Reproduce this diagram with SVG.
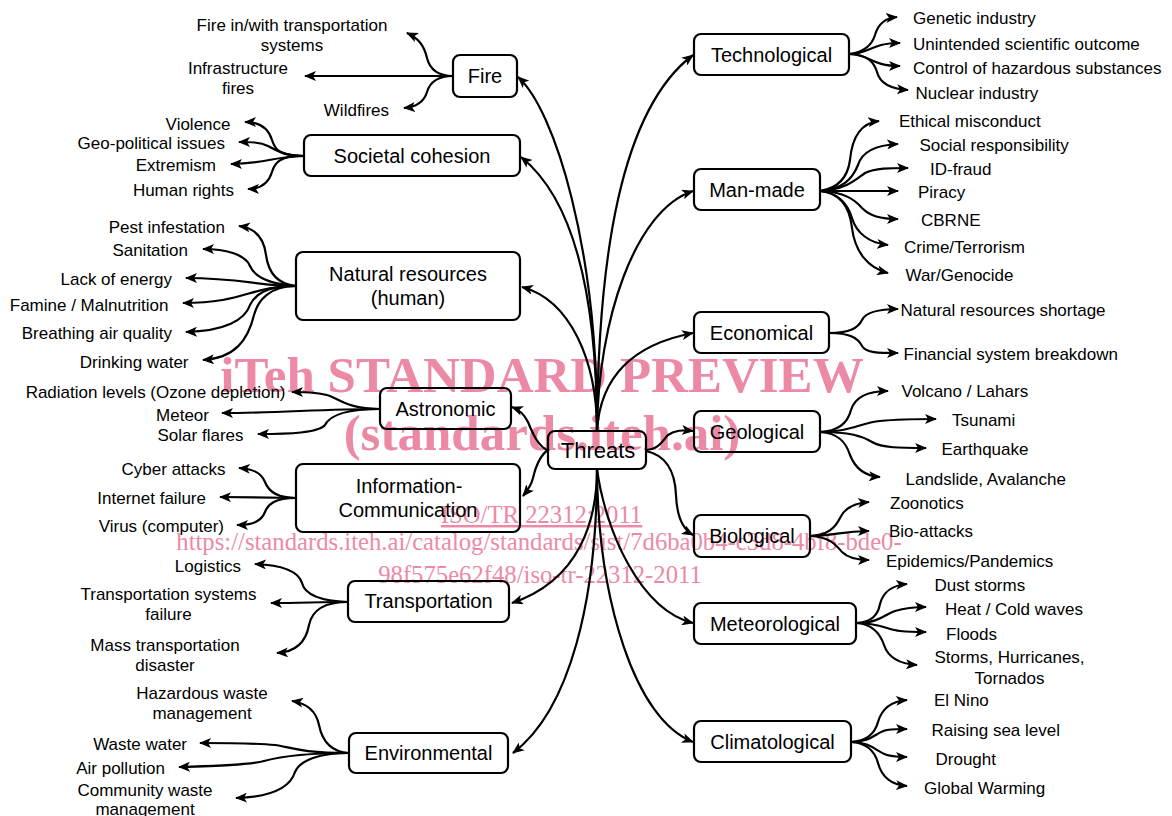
<svg xmlns="http://www.w3.org/2000/svg" width="1172" height="816" viewBox="0 0 1172 816">
<style>
.box{fill:none;stroke:#000;stroke-width:2.2}
.lbl{font-family:"Liberation Sans",Arial,sans-serif;font-size:20px;fill:#000;text-anchor:middle}
.thr{font-size:22px}
.leaf{font-family:"Liberation Sans",Arial,sans-serif;font-size:17px;fill:#000}
.l{text-anchor:end}
.r{text-anchor:start}
.m{text-anchor:middle}
.wm{font-family:"Liberation Serif","Times New Roman",serif;fill:#ec8aa6;text-anchor:middle}
.wmb{font-size:51px;font-weight:bold}
.wms{font-size:24.7px}
.edge{fill:none;stroke:#000;stroke-width:2.2;marker-end:url(#ah)}
</style>
<defs>
<marker id="ah" viewBox="0 0 12 10" refX="11" refY="5" markerWidth="12" markerHeight="10" markerUnits="userSpaceOnUse" orient="auto">
<path d="M0,0 L12,5 L0,10 L3,5 z" fill="#000"/>
</marker>
</defs>
<rect width="1172" height="816" fill="#fff"/>
<g id="watermark">
<text class="wm wmb" x="542" y="392">iTeh STANDARD PREVIEW</text>
<text class="wm wmb" x="542" y="450">(standards.iteh.ai)</text>
<text class="wm wms" x="541.5" y="523" text-decoration="underline">ISO/TR 22312:2011</text>
<text class="wm wms" x="539" y="550">https://standards.iteh.ai/catalog/standards/sist/7d6ba0b4-c3d8-4bf8-bde0-</text>
<text class="wm wms" x="540" y="583">98f575e62f48/iso-tr-22312-2011</text>
</g>
<g id="connectors">
<!-- central -->
<path class="edge" d="M597,431 C598,250 555,110 518,77"/>
<path class="edge" d="M597,431 C597,300 575,200 521,157"/>
<path class="edge" d="M597,431 C597,360 570,300 522,287"/>
<path class="edge" d="M549,451 C538,447 532,432 528,422 C524,414 520,410 512,407"/>
<path class="edge" d="M549,449 C540,455 536,465 533,478 C531,486 528,490 523,496"/>
<path class="edge" d="M597,469 C597,520 580,580 512,603"/>
<path class="edge" d="M597,469 C597,600 570,710 513,753"/>
<path class="edge" d="M597,431 C598,260 620,110 693,55"/>
<path class="edge" d="M597,431 C598,320 635,210 693,191"/>
<path class="edge" d="M597,431 C600,380 630,345 693,333"/>
<path class="edge" d="M646,450 C660,449 663,440 668,435 C675,430 682,430 693,431"/>
<path class="edge" d="M646,451 C665,455 675,470 676,495 C677,520 684,530 693,535"/>
<path class="edge" d="M597,469 C605,530 640,610 693,623"/>
<path class="edge" d="M597,469 C598,600 635,720 693,742"/>
<!-- Fire -->
<path class="edge" d="M453,76 C438,76 430,70 427,58 C424,45 418,38 407,33"/>
<path class="edge" d="M453,76 L305,76"/>
<path class="edge" d="M453,76 C438,76 430,82 427,92 C424,102 416,107 404,108"/>
<!-- Societal -->
<path class="edge" d="M304,156 C280,156 275,150 272,140 C268,127 258,122 245,122"/>
<path class="edge" d="M304,156 C285,156 275,150 268,146 C260,142 250,142 239,142"/>
<path class="edge" d="M304,156 C275,156 265,164 231,164"/>
<path class="edge" d="M304,156 C280,156 275,162 272,172 C268,185 258,189 248,189"/>
<!-- Natural resources -->
<path class="edge" d="M296,286 C275,284 268,270 266,255 C264,238 255,228 239,226"/>
<path class="edge" d="M296,286 C270,284 255,278 250,266 C245,254 225,249 203,249"/>
<path class="edge" d="M296,286 C260,286 240,278 186,278"/>
<path class="edge" d="M296,286 C250,286 245,303 183,303"/>
<path class="edge" d="M296,286 C265,286 255,295 250,305 C245,320 225,331 186,332"/>
<path class="edge" d="M296,286 C270,286 258,300 254,315 C248,340 235,358 203,360"/>
<!-- Astronomic -->
<path class="edge" d="M380,409 C350,409 340,400 330,396 C318,392 305,392 292,392"/>
<path class="edge" d="M380,409 C320,409 280,413 222,413"/>
<path class="edge" d="M380,409 C345,409 330,415 325,425 C318,433 290,434 258,434"/>
<!-- Information-Communication -->
<path class="edge" d="M296,498 C275,498 268,490 265,482 C261,472 252,469 239,468"/>
<path class="edge" d="M296,498 L220,497"/>
<path class="edge" d="M296,498 C275,498 268,504 265,512 C261,522 252,525 237,525"/>
<!-- Transportation -->
<path class="edge" d="M348,602 C320,601 305,595 302,583 C298,570 280,565 255,564"/>
<path class="edge" d="M348,602 C320,602 300,603 271,603"/>
<path class="edge" d="M348,602 C325,602 312,610 309,625 C306,642 295,652 277,653"/>
<!-- Environmental -->
<path class="edge" d="M349,753 C330,752 322,740 319,725 C316,710 305,703 292,701"/>
<path class="edge" d="M349,753 C300,753 290,747 275,745 C255,743 230,743 200,743"/>
<path class="edge" d="M349,753 C300,753 275,758 264,761 C250,765 215,766 179,767"/>
<path class="edge" d="M349,753 C320,753 300,760 295,772 C290,788 270,797 236,798"/>
<!-- Technological -->
<path class="edge" d="M849,54 C865,52 872,45 875,35 C878,24 885,18 897,17"/>
<path class="edge" d="M849,54 C870,54 870,43 900,43"/>
<path class="edge" d="M849,54 C870,54 870,66 900,66"/>
<path class="edge" d="M849,54 C868,55 874,62 877,72 C880,84 892,89 908,90"/>
<!-- Man-made -->
<path class="edge" d="M820,191 C840,188 848,175 850,160 C852,138 860,123 879,121"/>
<path class="edge" d="M820,191 C842,189 852,180 858,165 C862,152 875,145 898,144"/>
<path class="edge" d="M820,191 C845,190 855,180 865,173 C875,168 890,168 908,168"/>
<path class="edge" d="M820,191 L898,191"/>
<path class="edge" d="M820,191 C845,192 855,200 862,208 C870,216 880,219 898,219"/>
<path class="edge" d="M820,191 C840,193 848,205 852,218 C856,232 868,243 888,245"/>
<path class="edge" d="M820,191 C842,193 850,210 852,228 C855,252 868,268 888,273"/>
<!-- Economical -->
<path class="edge" d="M829,333 C850,333 858,328 862,320 C866,312 878,309 898,309"/>
<path class="edge" d="M829,333 C850,333 858,338 862,346 C866,353 878,353 898,353"/>
<!-- Geological -->
<path class="edge" d="M820,432 C840,431 848,422 851,410 C855,397 868,391 888,391"/>
<path class="edge" d="M820,432 C850,432 860,423 880,421 C900,419 915,419 936,419"/>
<path class="edge" d="M820,432 C850,432 862,436 872,442 C882,448 900,448 926,448"/>
<path class="edge" d="M820,432 C838,433 846,442 850,455 C855,468 865,476 880,477"/>
<!-- Biological -->
<path class="edge" d="M810,536 C828,535 835,528 840,518 C845,507 855,503 869,502"/>
<path class="edge" d="M810,536 C835,536 840,531 869,531"/>
<path class="edge" d="M810,536 C830,537 836,545 842,552 C848,558 856,560 869,560"/>
<!-- Meteorological -->
<path class="edge" d="M856,623 C872,622 878,615 880,604 C883,592 893,585 907,584"/>
<path class="edge" d="M856,623 C880,623 885,614 895,611 C905,608 915,607 926,607"/>
<path class="edge" d="M856,623 C880,623 888,630 900,631 C910,632 918,632 926,632"/>
<path class="edge" d="M856,623 C872,624 880,633 884,645 C888,657 900,664 917,665"/>
<!-- Climatological -->
<path class="edge" d="M851,742 C868,741 875,733 878,722 C882,708 893,701 907,700"/>
<path class="edge" d="M851,742 C872,742 876,732 887,730 C895,729 900,729 907,729"/>
<path class="edge" d="M851,742 C872,742 876,752 887,755 C895,757 900,757 907,757"/>
<path class="edge" d="M851,742 C868,743 875,752 878,763 C882,778 893,785 907,786"/>
</g>
<!-- Nodes with boxes -->
<g id="n-threats"><rect class="box" x="548" y="431" width="98" height="38" rx="7"/><text class="lbl thr" x="598" y="458">Threats</text></g>
<g id="n-fire"><rect class="box" x="453" y="55" width="64" height="42" rx="7"/><text class="lbl" x="485" y="83">Fire</text></g>
<g id="n-societal"><rect class="box" x="304" y="135" width="216" height="41" rx="7"/><text class="lbl" x="412" y="163">Societal cohesion</text></g>
<g id="n-natural"><rect class="box" x="296" y="252" width="224" height="68" rx="7"/><text class="lbl" x="408" y="281">Natural resources</text><text class="lbl" x="408" y="305">(human)</text></g>
<g id="n-astronomic"><rect class="box" x="380" y="388" width="131" height="41" rx="7"/><text class="lbl" x="445.5" y="416">Astronomic</text></g>
<g id="n-infocomm"><rect class="box" x="296" y="464" width="224" height="68" rx="7"/><text class="lbl" x="409" y="493">Information-</text><text class="lbl" x="408" y="517">Communication</text></g>
<g id="n-transportation"><rect class="box" x="348" y="581" width="161" height="41" rx="7"/><text class="lbl" x="428.5" y="608">Transportation</text></g>
<g id="n-environmental"><rect class="box" x="349" y="733" width="159" height="40" rx="7"/><text class="lbl" x="428.5" y="760">Environmental</text></g>
<g id="n-technological"><rect class="box" x="694" y="34" width="155" height="41" rx="7"/><text class="lbl" x="771.5" y="61.5">Technological</text></g>
<g id="n-manmade"><rect class="box" x="694" y="169" width="126" height="41" rx="7"/><text class="lbl" x="757" y="197">Man-made</text></g>
<g id="n-economical"><rect class="box" x="694" y="312" width="135" height="41" rx="7"/><text class="lbl" x="761.5" y="340">Economical</text></g>
<g id="n-geological"><rect class="box" x="694" y="411" width="126" height="41" rx="7"/><text class="lbl" x="757" y="438.5">Geological</text></g>
<g id="n-biological"><rect class="box" x="694" y="515" width="116" height="42" rx="7"/><text class="lbl" x="752" y="543">Biological</text></g>
<g id="n-meteorological"><rect class="box" x="694" y="603" width="162" height="41" rx="7"/><text class="lbl" x="775" y="630.5">Meteorological</text></g>
<g id="n-climatological"><rect class="box" x="694" y="721" width="157" height="41" rx="7"/><text class="lbl" x="772.5" y="748.5">Climatological</text></g>
<!-- Leaves left -->
<g id="l-fire-transport"><text class="leaf m" x="292" y="31">Fire in/with transportation</text><text class="leaf m" x="292" y="51">systems</text></g>
<g id="l-infra-fires"><text class="leaf m" x="238" y="73.5">Infrastructure</text><text class="leaf m" x="238" y="93.5">fires</text></g>
<g id="l-wildfires"><text class="leaf l" x="389" y="116">Wildfires</text></g>
<g id="l-violence"><text class="leaf l" x="230.5" y="129.5">Violence</text></g>
<g id="l-geopolitical"><text class="leaf l" x="225" y="148.5">Geo-political issues</text></g>
<g id="l-extremism"><text class="leaf l" x="216" y="170.5">Extremism</text></g>
<g id="l-humanrights"><text class="leaf l" x="234" y="196">Human rights</text></g>
<g id="l-pest"><text class="leaf l" x="225" y="232.5">Pest infestation</text></g>
<g id="l-sanitation"><text class="leaf l" x="188" y="256">Sanitation</text></g>
<g id="l-energy"><text class="leaf l" x="172" y="284.5">Lack of energy</text></g>
<g id="l-famine"><text class="leaf l" x="168.5" y="310.5">Famine / Malnutrition</text></g>
<g id="l-air"><text class="leaf l" x="172" y="338.5">Breathing air quality</text></g>
<g id="l-water"><text class="leaf l" x="188.5" y="367.5">Drinking water</text></g>
<g id="l-radiation"><text class="leaf l" x="285.5" y="397.5">Radiation levels (Ozone depletion)</text></g>
<g id="l-meteor"><text class="leaf l" x="209" y="420.5">Meteor</text></g>
<g id="l-solar"><text class="leaf l" x="243.5" y="441">Solar flares</text></g>
<g id="l-cyber"><text class="leaf l" x="225.5" y="474.5">Cyber attacks</text></g>
<g id="l-internet"><text class="leaf l" x="206" y="503.5">Internet failure</text></g>
<g id="l-virus"><text class="leaf l" x="224" y="532">Virus (computer)</text></g>
<g id="l-logistics"><text class="leaf l" x="241" y="572">Logistics</text></g>
<g id="l-tsf"><text class="leaf m" x="168.5" y="599.5">Transportation systems</text><text class="leaf m" x="168.5" y="620">failure</text></g>
<g id="l-mass"><text class="leaf m" x="165" y="651">Mass transportation</text><text class="leaf m" x="165" y="671">disaster</text></g>
<g id="l-hazardous"><text class="leaf m" x="202" y="698.5">Hazardous waste</text><text class="leaf m" x="202" y="718.5">management</text></g>
<g id="l-wastewater"><text class="leaf l" x="187" y="749.5">Waste water</text></g>
<g id="l-airpollution"><text class="leaf l" x="165" y="773.5">Air pollution</text></g>
<g id="l-community"><text class="leaf m" x="145" y="796">Community waste</text><text class="leaf m" x="145" y="815">management</text></g>
<!-- Leaves right -->
<g id="r-genetic"><text class="leaf r" x="913" y="23.5">Genetic industry</text></g>
<g id="r-unintended"><text class="leaf r" x="913" y="49.5">Unintended scientific outcome</text></g>
<g id="r-control"><text class="leaf r" x="913" y="73.5">Control of hazardous substances</text></g>
<g id="r-nuclear"><text class="leaf r" x="915.5" y="98.5">Nuclear industry</text></g>
<g id="r-ethical"><text class="leaf r" x="899" y="126.5">Ethical misconduct</text></g>
<g id="r-social"><text class="leaf r" x="919.5" y="151">Social responsibility</text></g>
<g id="r-idfraud"><text class="leaf r" x="930" y="174.5">ID-fraud</text></g>
<g id="r-piracy"><text class="leaf r" x="918" y="197.5">Piracy</text></g>
<g id="r-cbrne"><text class="leaf r" x="921" y="226">CBRNE</text></g>
<g id="r-crime"><text class="leaf r" x="904" y="252.5">Crime/Terrorism</text></g>
<g id="r-war"><text class="leaf r" x="905.5" y="281">War/Genocide</text></g>
<g id="r-nrshort"><text class="leaf r" x="900.5" y="316">Natural resources shortage</text></g>
<g id="r-financial"><text class="leaf r" x="903.5" y="359.5">Financial system breakdown</text></g>
<g id="r-volcano"><text class="leaf r" x="901.5" y="397">Volcano / Lahars</text></g>
<g id="r-tsunami"><text class="leaf r" x="952" y="426">Tsunami</text></g>
<g id="r-earthquake"><text class="leaf r" x="941.5" y="455">Earthquake</text></g>
<g id="r-landslide"><text class="leaf r" x="905.5" y="484.5">Landslide, Avalanche</text></g>
<g id="r-zoonotics"><text class="leaf r" x="890" y="508.5">Zoonotics</text></g>
<g id="r-bioattacks"><text class="leaf r" x="889" y="537">Bio-attacks</text></g>
<g id="r-epidemics"><text class="leaf r" x="886" y="566.5">Epidemics/Pandemics</text></g>
<g id="r-dust"><text class="leaf r" x="934.5" y="590.5">Dust storms</text></g>
<g id="r-heat"><text class="leaf r" x="945" y="614.5">Heat / Cold waves</text></g>
<g id="r-floods"><text class="leaf r" x="946" y="639.5">Floods</text></g>
<g id="r-storms"><text class="leaf m" x="1009.5" y="662.5">Storms, Hurricanes,</text><text class="leaf m" x="1009.5" y="683.5">Tornados</text></g>
<g id="r-elnino"><text class="leaf r" x="934" y="706">El Nino</text></g>
<g id="r-sealevel"><text class="leaf r" x="931.5" y="735.5">Raising sea level</text></g>
<g id="r-drought"><text class="leaf r" x="935.5" y="764.5">Drought</text></g>
<g id="r-warming"><text class="leaf r" x="924" y="793.5">Global Warming</text></g>
</svg>
